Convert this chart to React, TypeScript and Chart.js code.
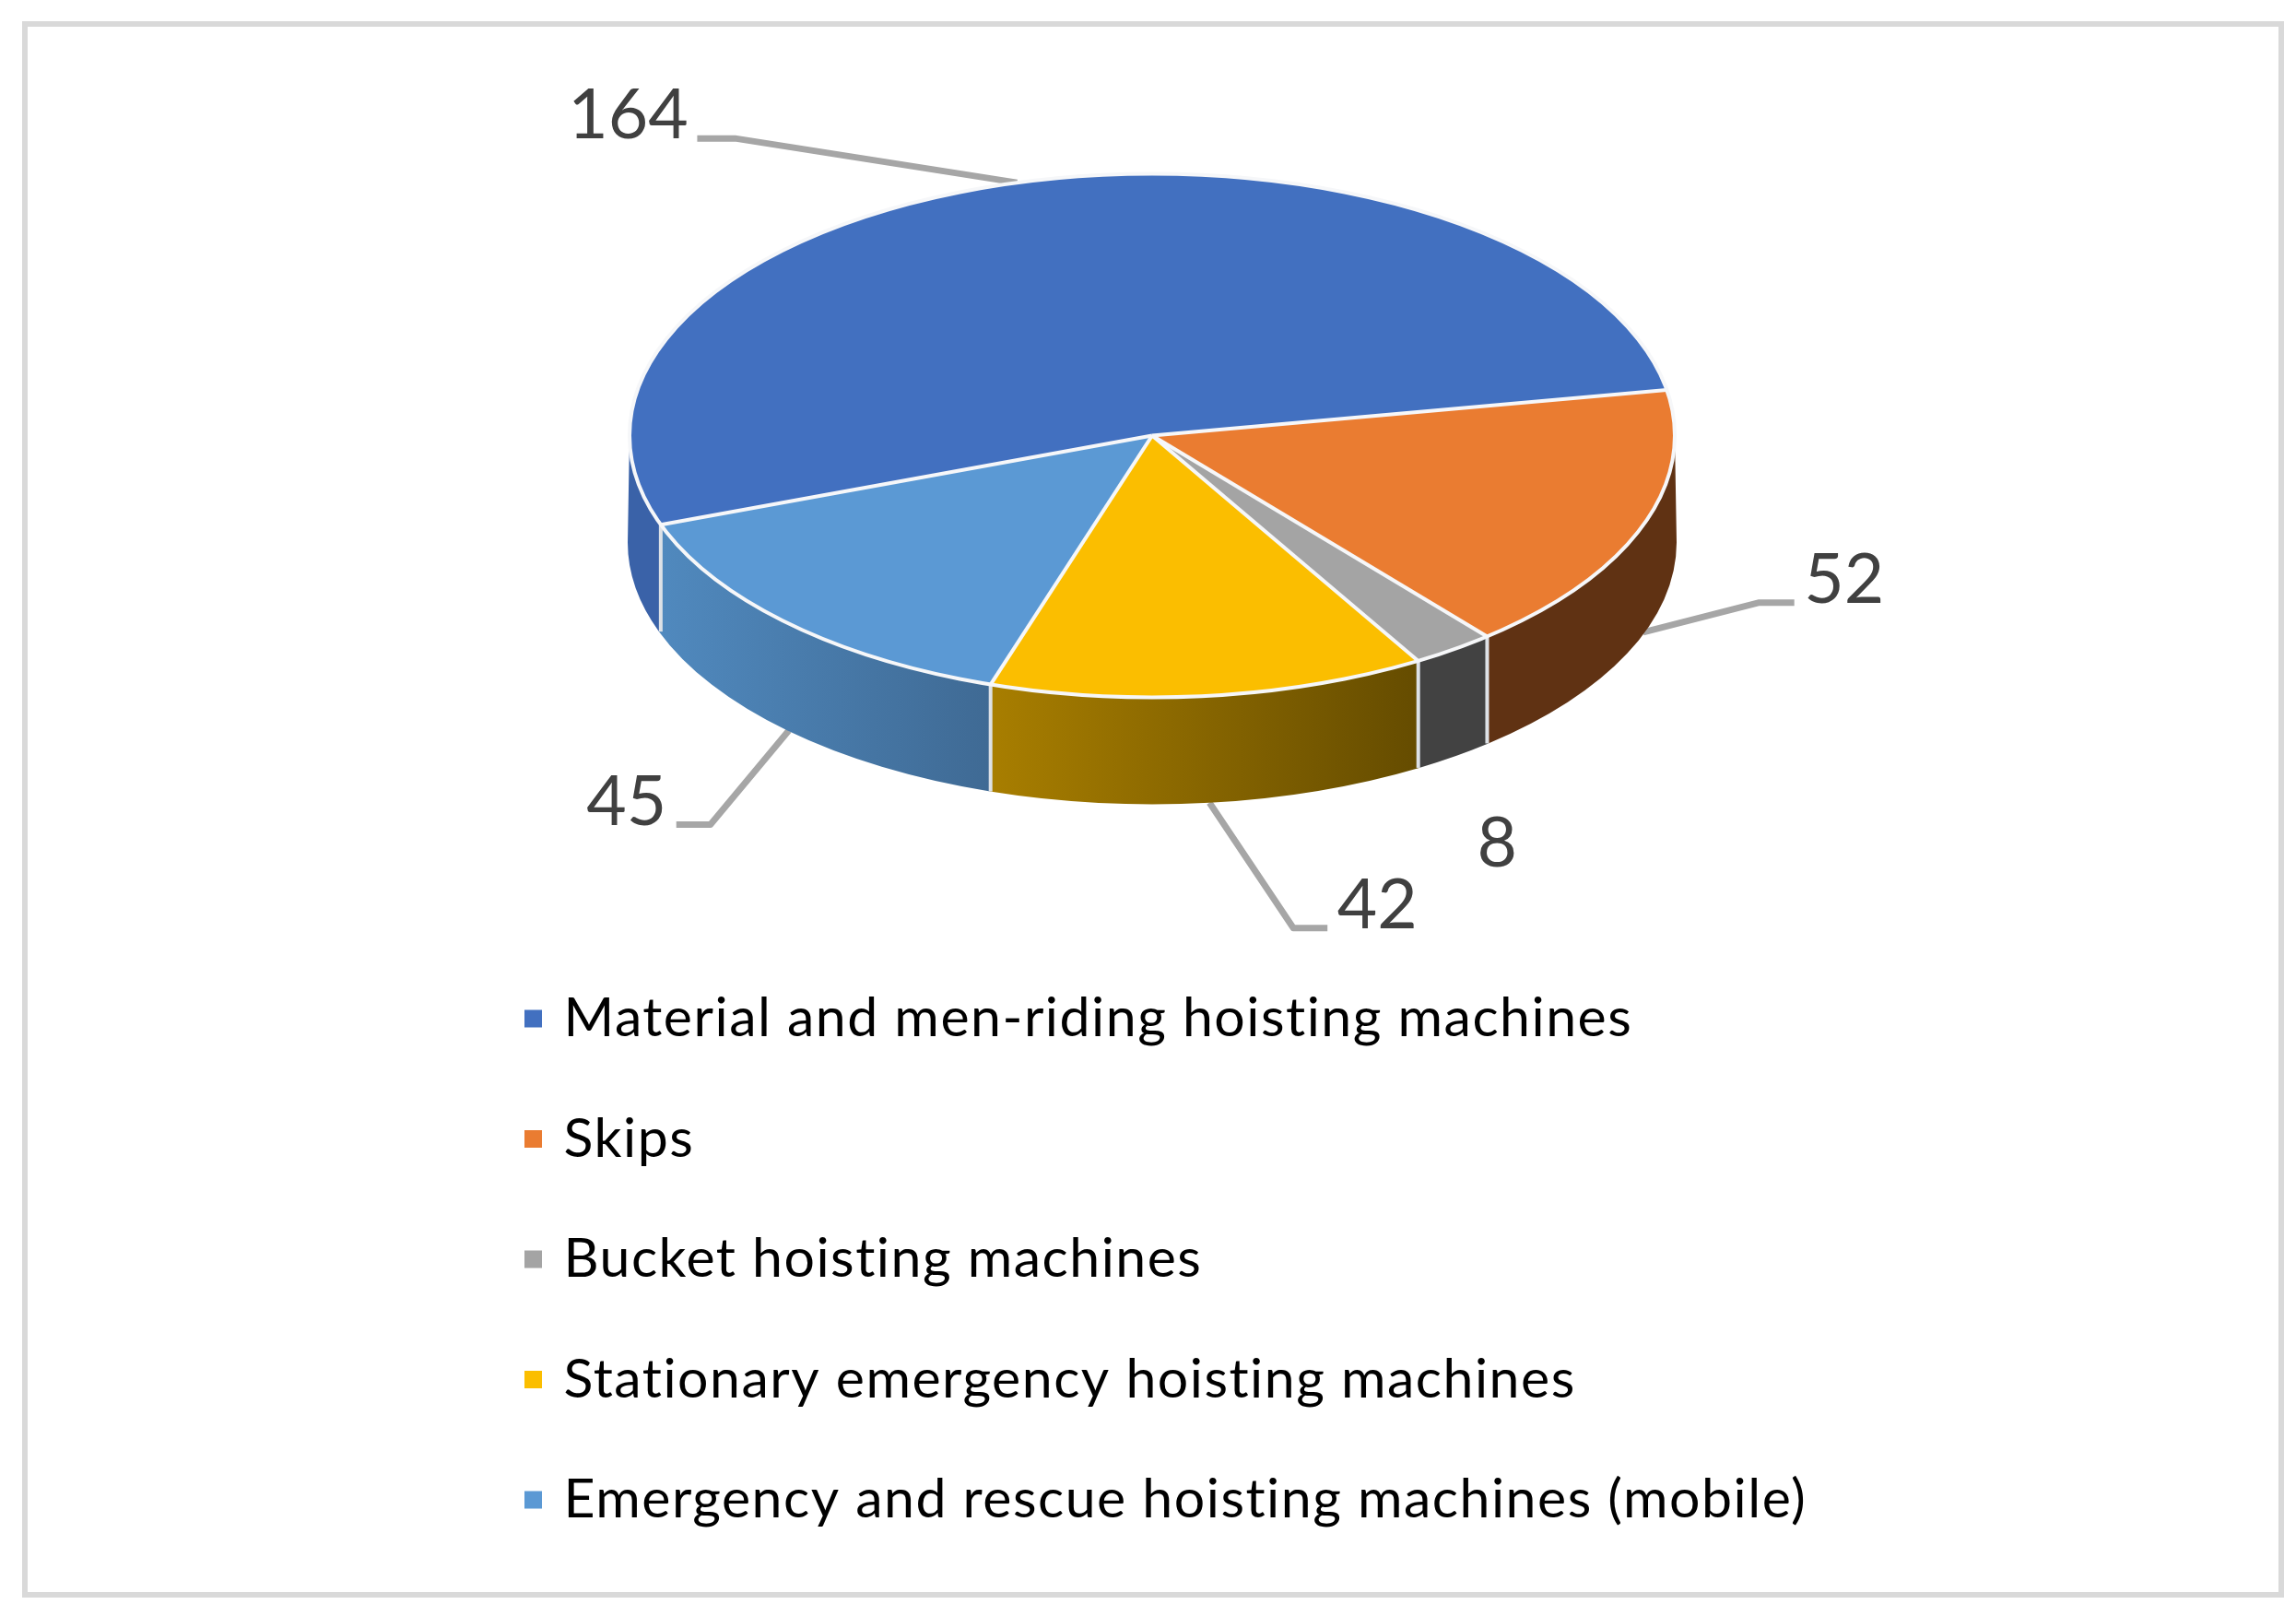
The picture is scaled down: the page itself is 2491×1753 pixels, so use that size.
import React, { useEffect, useRef } from "react";
import { Chart, registerables } from "chart.js";

Chart.register(...registerables);

const categories = [
  "Material and men-riding hoisting machines",
  "Skips",
  "Bucket hoisting machines",
  "Stationary emergency hoisting machines",
  "Emergency and rescue hoisting machines (mobile)",
];
const values = [164, 52, 8, 42, 45];
const topColors = ["#4270C0", "#EA7C31", "#A4A4A4", "#FBBE00", "#5B99D4"];
const wallColors = [
  ["#3A62A8", "#3A62A8"],
  ["#603213", "#603213"],
  ["#424242", "#424242"],
  ["#A87E00", "#654C00"],
  ["#5089BE", "#3F6A94"],
];

// Layout of the drawing, in canvas pixels.
const WIDTH = 2491;
const HEIGHT = 1753;
const CX = 1250;
const CY = 472.5;
const RX = 567;
const RY = 284;
const WALL = 116;
const FONT = "Lato, Carlito, sans-serif";
const LEGEND_FONT = 59;
const LEGEND_ROW = 130.5;
const LEGEND_TRACKING = "1.5px";
const LABEL_FONT = 75;
const SWATCH_CORE = 7;
const SWATCH_STROKE = 12;

// Offsets from each slice's mid-arc anchor: elbow, line end, value label.
const leaderOffsets = [
  { knee: [-306, -48], end: [-347, -48], label: [-422, -48] },
  { knee: [125, -32], end: [164, -32], label: [218, -32] },
  { knee: null, end: null, label: [47, 120] },
  { knee: [91, 136], end: [128, 136], label: [182, 136] },
  { knee: [-85, 102], end: [-122, 102], label: [-176, 102] },
];

const TAU = Math.PI * 2;

function anchorOf(arc: any) {
  const mid = (arc.startAngle + arc.endAngle) / 2;
  const s = Math.sin(mid);
  return {
    x: CX + RX * Math.cos(mid),
    y: CY + RY * s + (s > 0 ? WALL : 0),
  };
}

function visiblePieces(a0: number, a1: number) {
  const out: [number, number][] = [];
  for (let k = -1; k <= 2; k++) {
    const lo = Math.max(a0, k * TAU);
    const hi = Math.min(a1, k * TAU + Math.PI);
    if (hi > lo) out.push([lo, hi]);
  }
  return out;
}

const pie3d = {
  id: "pie3d",
  afterLayout(chart: any) {
    const area = chart.chartArea;
    area.left = CX - RX;
    area.right = CX + RX;
    area.top = CY - RX;
    area.bottom = CY + RX;
    area.width = RX * 2;
    area.height = RX * 2;
    const legend = chart.legend;
    const pad = LEGEND_ROW - LEGEND_FONT;
    legend.left = 575 - pad;
    legend.top = 1105 - pad - LEGEND_FONT / 2;
    legend.right = legend.left + 2000;
    legend.bottom = legend.top + 1000;
    legend.width = 2000;
    legend.height = 1000;
  },
  beforeDraw(chart: any) {
    const ctx = chart.ctx;
    ctx.fillStyle = "#FFFFFF";
    ctx.fillRect(0, 0, WIDTH, HEIGHT);
    ctx.strokeStyle = "#D9D9D9";
    ctx.lineWidth = 6;
    ctx.strokeRect(27, 26, 2448, 1704);
    (ctx as any).letterSpacing = LEGEND_TRACKING;
  },
  beforeDatasetsDraw(chart: any) {
    const ctx = chart.ctx;
    const arcs = chart.getDatasetMeta(0).data;
    ctx.save();
    // Leader lines go under the pie.
    ctx.strokeStyle = "#A6A6A6";
    ctx.lineWidth = 7;
    ctx.lineJoin = "round";
    arcs.forEach((arc: any, i: number) => {
      const off = leaderOffsets[i];
      if (!off.knee || !off.end) return;
      const a = anchorOf(arc);
      ctx.beginPath();
      ctx.moveTo(a.x, a.y);
      ctx.lineTo(a.x + off.knee[0], a.y + off.knee[1]);
      ctx.lineTo(a.x + off.end[0], a.y + off.end[1]);
      ctx.stroke();
    });
    // Side wall of the disc.
    arcs.forEach((arc: any, i: number) => {
      visiblePieces(arc.startAngle, arc.endAngle).forEach(([lo, hi]) => {
        const xa = CX + RX * Math.cos(hi);
        const xb = CX + RX * Math.cos(lo);
        const g = ctx.createLinearGradient(Math.min(xa, xb), 0, Math.max(xa, xb), 0);
        g.addColorStop(0, wallColors[i][0]);
        g.addColorStop(1, wallColors[i][1]);
        ctx.fillStyle = g;
        ctx.beginPath();
        ctx.ellipse(CX, CY, RX, RY, 0, lo, hi);
        ctx.ellipse(CX, CY + WALL, RX + 2, RY, 0, hi, lo, true);
        ctx.closePath();
        ctx.fill();
      });
    });
    // Seams on the wall.
    ctx.strokeStyle = "#DDE1E6";
    ctx.lineWidth = 4;
    arcs.forEach((arc: any) => {
      const s = Math.sin(arc.startAngle);
      if (s <= 0) return;
      const x = CX + RX * Math.cos(arc.startAngle);
      const y = CY + RY * s;
      ctx.beginPath();
      ctx.moveTo(x, y);
      ctx.lineTo(x, y + WALL);
      ctx.stroke();
    });
    ctx.restore();
    // The top face: Chart.js draws a circle, squashed here into an ellipse.
    ctx.save();
    ctx.translate(CX, CY);
    ctx.scale(1, RY / RX);
    ctx.translate(-CX, -CY);
  },
  afterDatasetsDraw(chart: any) {
    const ctx = chart.ctx;
    ctx.restore();
    const arcs = chart.getDatasetMeta(0).data;
    ctx.save();
    ctx.strokeStyle = "#F6F7F9";
    ctx.lineWidth = 4;
    ctx.beginPath();
    ctx.ellipse(CX, CY, RX, RY, 0, 0, TAU);
    ctx.stroke();
    arcs.forEach((arc: any) => {
      ctx.beginPath();
      ctx.moveTo(CX, CY);
      ctx.lineTo(CX + RX * Math.cos(arc.startAngle), CY + RY * Math.sin(arc.startAngle));
      ctx.stroke();
    });
    (ctx as any).letterSpacing = "0px";
    ctx.fillStyle = "#404040";
    ctx.font = `${LABEL_FONT}px ${FONT}`;
    ctx.textAlign = "center";
    ctx.textBaseline = "alphabetic";
    arcs.forEach((arc: any, i: number) => {
      const a = anchorOf(arc);
      const l = leaderOffsets[i].label;
      ctx.fillText(String(values[i]), a.x + l[0], a.y + l[1]);
    });
    ctx.restore();
  },
};

export default function App() {
  const ref = useRef<HTMLCanvasElement>(null);
  useEffect(() => {
    document.body.style.margin = "0";
    document.body.style.background = "#FFFFFF";
    const baseLabels = (Chart as any).overrides.pie.plugins.legend.labels.generateLabels;
    const chart = new Chart(ref.current as HTMLCanvasElement, {
      type: "pie",
      data: {
        labels: categories,
        datasets: [
          {
            data: values,
            backgroundColor: topColors,
            borderWidth: 0,
            hoverOffset: 0,
            offset: 0,
            clip: false,
          } as any,
        ],
      },
      options: {
        animation: false,
        responsive: false,
        events: [],
        rotation: 250.1,
        layout: { padding: 0 },
        plugins: {
          tooltip: { enabled: false },
          legend: {
            display: true,
            position: "chartArea",
            align: "start",
            labels: {
              boxWidth: SWATCH_CORE,
              boxHeight: SWATCH_CORE,
              padding: LEGEND_ROW - LEGEND_FONT,
              color: "#000000",
              font: { family: FONT, size: LEGEND_FONT },
              generateLabels: (c: any) =>
                baseLabels(c).map((item: any) => ({
                  ...item,
                  strokeStyle: item.fillStyle,
                  lineWidth: SWATCH_STROKE,
                })),
            },
          },
        },
      } as any,
      plugins: [pie3d],
    });
    return () => chart.destroy();
  }, []);
  return (
    <canvas
      ref={ref}
      width={WIDTH}
      height={HEIGHT}
      style={{ position: "fixed", left: 0, top: 0, width: WIDTH, height: HEIGHT }}
    />
  );
}
